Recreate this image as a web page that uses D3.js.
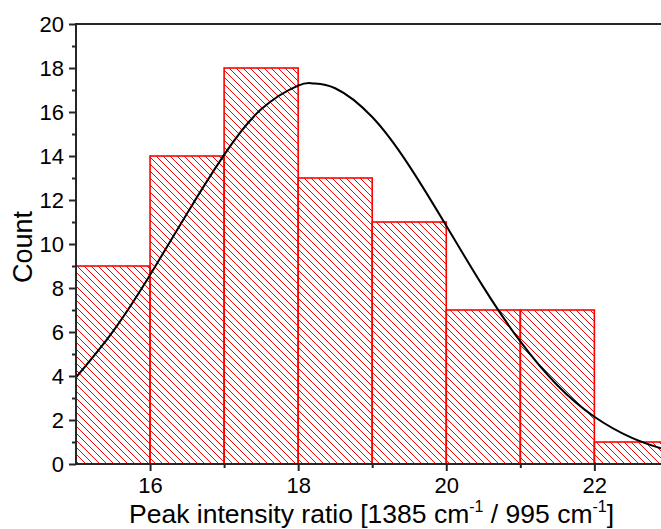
<!DOCTYPE html>
<html>
<head>
<meta charset="utf-8">
<script src="https://cdn.jsdelivr.net/npm/d3@7"></script>
<style>
  body { margin: 0; background: #fff; }
  svg { display: block; font-family: "Liberation Sans", Arial, sans-serif; }
</style>
</head>
<body>
<svg id="chart" width="661" height="529"></svg>
<script>
// histogram bins (left edge, right edge) and counts
var binStarts = [15, 16, 17, 18, 19, 20, 21, 22]
var binEnds = [16, 17, 18, 19, 20, 21, 22, 23]
var counts = [9, 14, 18, 13, 11, 7, 7, 1]

// fitted curve
var curveX = [15, 15.5, 16, 16.5, 17, 17.5, 18, 18.2, 18.5, 19, 19.5, 20, 20.5, 21, 21.5, 22, 22.5, 22.9]
var curveY = [3.94, 6.03, 8.59, 11.39, 14.05, 16.12, 17.2, 17.3, 17.08, 15.77, 13.55, 10.83, 8.05, 5.57, 3.58, 2.15, 1.2, 0.71]

var xMajor = [16, 18, 20, 22]
var xMinor = [17, 19, 21]
var yMajor = [0, 2, 4, 6, 8, 10, 12, 14, 16, 18, 20]
var yMinor = [1, 3, 5, 7, 9, 11, 13, 15, 17, 19]

var plotL = 76, plotT = 24, plotR = 661, plotB = 464

var x = d3.scaleLinear().domain([15, 22.9]).range([plotL, plotR])
var y = d3.scaleLinear().domain([0, 20]).range([plotB, plotT])

var svg = d3.select("#chart")

// hatch pattern
var defs = svg.append("defs")
var pat = defs.append("pattern")
  .attr("id", "hatch")
  .attr("patternUnits", "userSpaceOnUse")
  .attr("width", 7)
  .attr("height", 7)
pat.append("path")
  .attr("d", "M-1,-1 L8,8 M-4.5,2.5 L4.5,11.5 M2.5,-4.5 L11.5,4.5")
  .attr("stroke", "#ff0000")
  .attr("stroke-width", 1)

defs.append("clipPath").attr("id", "plotclip")
  .append("rect")
  .attr("x", plotL).attr("y", plotT - 2)
  .attr("width", plotR - plotL).attr("height", plotB - plotT + 4)

var bars = binStarts.map(function (d, i) {
  return { x0: d, x1: binEnds[i], n: counts[i] }
})

var g = svg.append("g").attr("clip-path", "url(#plotclip)")

g.selectAll("rect.bar")
  .data(bars)
  .enter()
  .append("rect")
  .attr("class", "bar")
  .attr("x", function (d) { return x(d.x0) })
  .attr("y", function (d) { return y(d.n) })
  .attr("width", function (d) { return x(d.x1) - x(d.x0) })
  .attr("height", function (d) { return y(0) - y(d.n) })
  .attr("fill", "url(#hatch)")
  .attr("stroke", "#ff0000")
  .attr("stroke-width", 1.6)

var pts = curveX.map(function (d, i) { return [d, curveY[i]] })
var line = d3.line()
  .x(function (d) { return x(d[0]) })
  .y(function (d) { return y(d[1]) })
  .curve(d3.curveNatural)

g.append("path")
  .datum(pts)
  .attr("d", line)
  .attr("fill", "none")
  .attr("stroke", "#000")
  .attr("stroke-width", 2)

// axes
var axisColor = "#262626"

var xAxis = d3.axisBottom(x).tickValues(xMajor).tickSize(7).tickSizeOuter(0)
  .tickFormat(d3.format("d"))
var gx = svg.append("g").attr("transform", "translate(0," + plotB + ")").call(xAxis)
gx.select(".domain").remove()
gx.selectAll(".tick line").attr("stroke", axisColor).attr("stroke-width", 2)
gx.selectAll(".tick text").attr("font-size", 22).attr("fill", "#000")
  .attr("y", 29).attr("dy", 0)

var gxm = svg.append("g").attr("transform", "translate(0," + plotB + ")")
  .call(d3.axisBottom(x).tickValues(xMinor).tickSize(4).tickFormat(""))
gxm.select(".domain").remove()
gxm.selectAll(".tick line").attr("stroke", axisColor).attr("stroke-width", 2)

var yAxis = d3.axisLeft(y).tickValues(yMajor).tickSize(7).tickSizeOuter(0)
  .tickFormat(d3.format("d"))
var gy = svg.append("g").attr("transform", "translate(" + plotL + ",0)").call(yAxis)
gy.select(".domain").remove()
gy.selectAll(".tick line").attr("stroke", axisColor).attr("stroke-width", 2)
gy.selectAll(".tick text").attr("font-size", 22).attr("fill", "#000").attr("x", -12)

var gym = svg.append("g").attr("transform", "translate(" + plotL + ",0)")
  .call(d3.axisLeft(y).tickValues(yMinor).tickSize(4).tickFormat(""))
gym.select(".domain").remove()
gym.selectAll(".tick line").attr("stroke", axisColor).attr("stroke-width", 2)

// frame lines
svg.append("line").attr("x1", plotL).attr("x2", plotR).attr("y1", plotB).attr("y2", plotB)
  .attr("stroke", axisColor).attr("stroke-width", 2)
svg.append("line").attr("x1", plotL).attr("x2", plotR).attr("y1", plotT).attr("y2", plotT)
  .attr("stroke", axisColor).attr("stroke-width", 2)
svg.append("line").attr("x1", plotL).attr("x2", plotL).attr("y1", plotT - 1).attr("y2", plotB + 1)
  .attr("stroke", axisColor).attr("stroke-width", 2)

// axis titles
svg.append("text")
  .attr("transform", "translate(32,247) rotate(-90)")
  .attr("text-anchor", "middle")
  .attr("font-size", 27)
  .text("Count")

var xt = svg.append("text")
  .attr("x", 129)
  .attr("y", 523)
  .attr("text-anchor", "start")
  .attr("font-size", 26.5)
xt.append("tspan").text("Peak intensity ratio [1385 cm")
xt.append("tspan").attr("font-size", 16).attr("dy", -11).text("-1")
xt.append("tspan").attr("dy", 11).text(" / 995 cm")
xt.append("tspan").attr("font-size", 16).attr("dy", -11).text("-1")
xt.append("tspan").attr("dy", 11).text("]")
</script>
</body>
</html>
